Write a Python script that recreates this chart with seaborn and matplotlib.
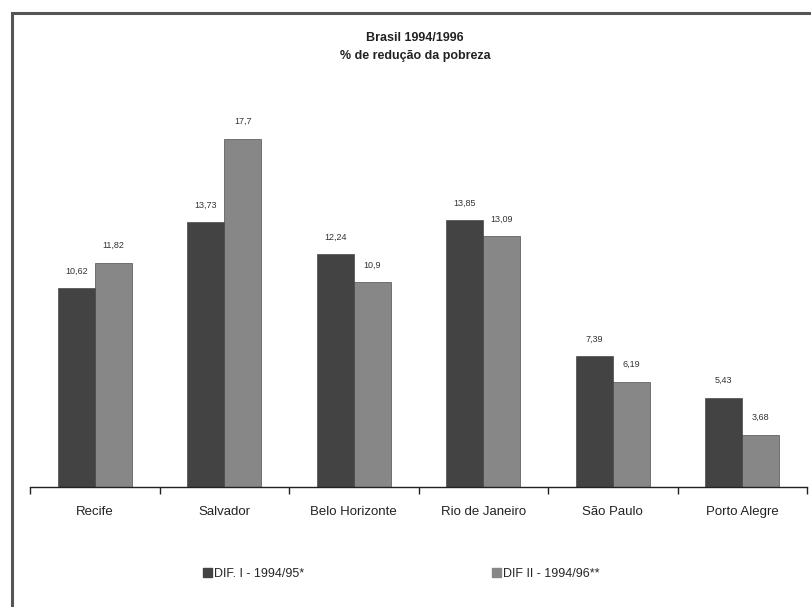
import pandas as pd
import matplotlib.pyplot as plt
import matplotlib.patches as mpatches
import seaborn as sns

# Data
cities = ['Recife', 'Salvador', 'Belo Horizonte', 'Rio de Janeiro', 'São Paulo', 'Porto Alegre']
dif1 = [10.62, 13.73, 12.24, 13.85, 7.39, 5.43]
dif2 = [11.82, 17.7, 10.9, 13.09, 6.19, 3.68]
dif1_labels = ['10,62', '13,73', '12,24', '13,85', '7,39', '5,43']
dif2_labels = ['11,82', '17,7', '10,9', '13,09', '6,19', '3,68']
series = ['DIF. I - 1994/95*', 'DIF II - 1994/96**']


def main():
    df = pd.DataFrame({
        'city': cities * 2,
        'value': dif1 + dif2,
        'serie': [series[0]] * len(cities) + [series[1]] * len(cities),
    })

    sns.set_theme(style="white")
    plt.rcParams['font.family'] = ['Liberation Sans', 'DejaVu Sans']

    fig = plt.figure(figsize=(8.11, 6.07), dpi=100)
    ax = fig.add_axes([30 / 811, 1 - 487 / 607, 777 / 811, 397 / 607])

    palette = {series[0]: '#434343', series[1]: '#878787'}
    sns.barplot(data=df, x='city', y='value', hue='serie', palette=palette,
                width=0.57, saturation=1, edgecolor='#333333', linewidth=0.4,
                legend=False, ax=ax)

    ax.set_ylim(1.2, 20)
    ax.set_xlim(-0.5, len(cities) - 0.5)

    # value labels
    for cont, labels in zip(ax.containers, [dif1_labels, dif2_labels]):
        ax.bar_label(cont, labels=labels, padding=9, fontsize=6.5, color='#333333')

    # axes look: only bottom line with ticks at category boundaries
    for side in ['left', 'right', 'top']:
        ax.spines[side].set_visible(False)
    ax.spines['bottom'].set_color('#222222')
    ax.spines['bottom'].set_linewidth(1.0)
    ax.set_yticks([])
    ax.set_xticks(range(len(cities)))
    ax.set_xticklabels(cities, fontsize=9.5, color='#222222')
    ax.set_xticks([i - 0.5 for i in range(len(cities) + 1)], minor=True)
    ax.tick_params(axis='x', which='major', length=0, pad=14)
    ax.tick_params(axis='x', which='minor', length=5, width=1, color='#222222', direction='out', bottom=True)
    ax.set_xlabel('')
    ax.set_ylabel('')

    fig.text(0.512, 1 - 38 / 607, 'Brasil 1994/1996', ha='center', va='center',
             fontsize=9, fontweight='bold', color='#222222')
    fig.text(0.512, 1 - 56 / 607, '% de redução da pobreza', ha='center', va='center',
             fontsize=9, fontweight='bold', color='#222222')

    handles = [mpatches.Patch(color=palette[s], label=s) for s in series]
    fig.legend(handles=handles, loc='center', bbox_to_anchor=(0.495, 1 - 574 / 607),
               ncol=2, frameon=False, fontsize=9, handlelength=0.7, handleheight=0.7,
               handletextpad=0.2, columnspacing=15)

    # outer frame (right and bottom edges fall outside the image)
    frame = mpatches.Rectangle((12 / 811, -0.1), 1.2, 1 - 13 / 607 + 0.1,
                               transform=fig.transFigure, fill=False,
                               edgecolor='#555555', linewidth=2.2)
    fig.patches.append(frame)

    fig.savefig('out.png', dpi=100)


if __name__ == "__main__":
    main()
